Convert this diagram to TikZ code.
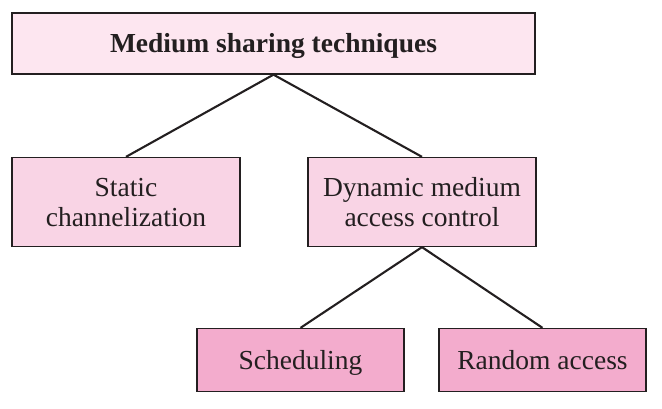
\documentclass[tikz,border=0pt]{standalone}
\usepackage{fontspec}
\setmainfont{Liberation Serif}
\definecolor{topfill}{HTML}{FDE6F0}
\definecolor{midfill}{HTML}{F9D4E5}
\definecolor{lowfill}{HTML}{F3ACCD}
\definecolor{ink}{HTML}{231F20}
\begin{document}
\begin{tikzpicture}[x=1pt,y=-1pt,
  box/.style={draw=ink,line width=1.3pt,inner sep=0pt,align=center,text=ink,
    font=\fontsize{27.5}{31}\selectfont,text height=19pt,text depth=0pt},
  twoline/.style={text height=50pt,text depth=0pt},
  link/.style={draw=ink,line width=2.1pt}]
\useasboundingbox (0,0) rectangle (662,409);
\node[box,fill=topfill,minimum width=523pt,minimum height=61pt,font=\fontsize{27.5}{31}\selectfont\bfseries] (top) at (273.5,43.5) {Medium sharing techniques};
\node[box,twoline,fill=midfill,minimum width=228pt,minimum height=89pt] (static) at (126,202) {Static\\channelization};
\node[box,twoline,fill=midfill,minimum width=228pt,minimum height=89pt] (dyn) at (422,202) {Dynamic medium\\access control};
\node[box,fill=lowfill,minimum width=207pt,minimum height=63pt] (sched) at (300.5,360) {Scheduling};
\node[box,fill=lowfill,minimum width=207pt,minimum height=63pt] (rand) at (542.5,360) {Random access};
\draw[link] (top.south) -- (static.north);
\draw[link] (top.south) -- (dyn.north);
\draw[link] (dyn.south) -- (sched.north);
\draw[link] (dyn.south) -- (rand.north);
\end{tikzpicture}
\end{document}
